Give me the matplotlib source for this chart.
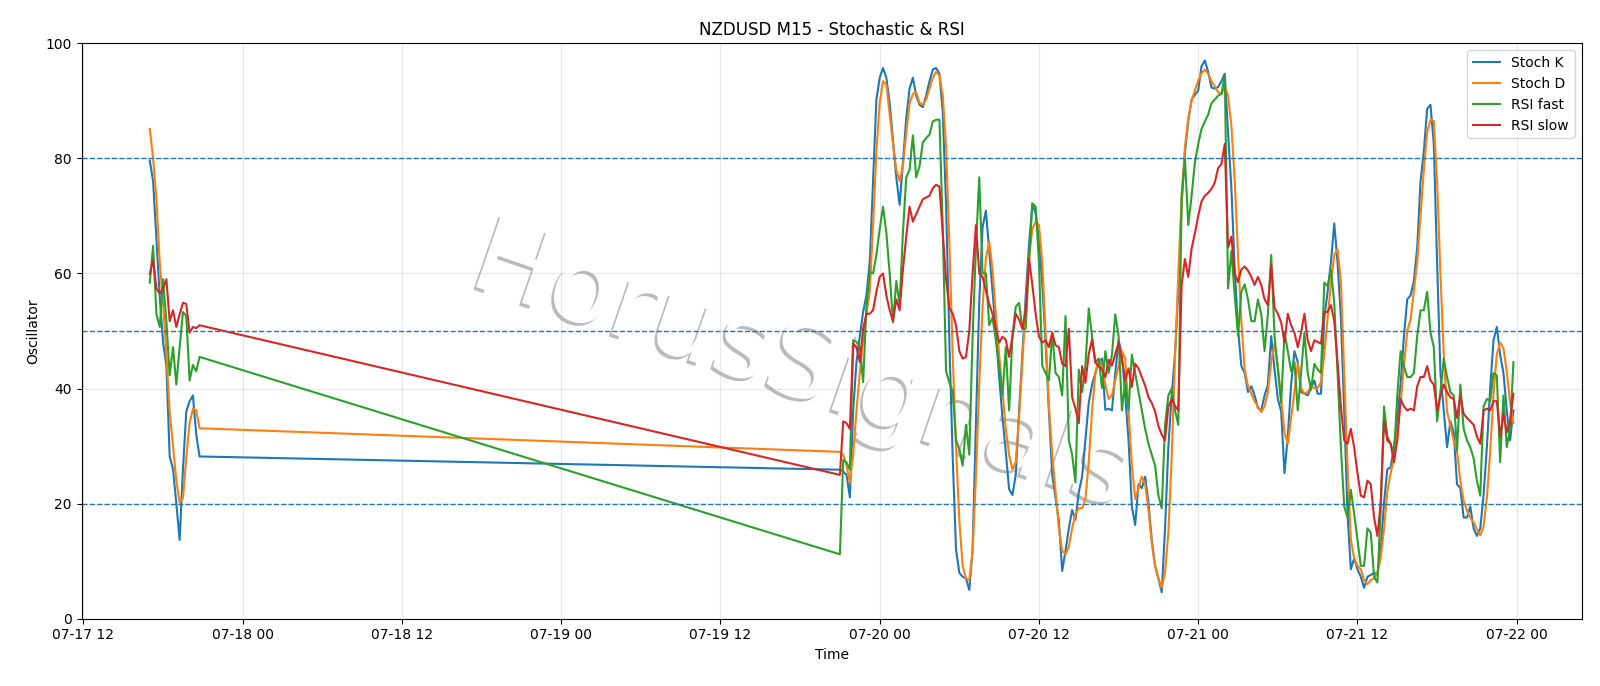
import pandas as pd
import numpy as np
import matplotlib
matplotlib.use("Agg")
import matplotlib.pyplot as plt
import matplotlib.dates as mdates
import matplotlib.patheffects as pe

# ----- 数据：M15 K线（周五收盘段 + 周日开盘后）-----
FRI_START = "2020-07-17 17:00"
SUN_START = "2020-07-19 21:00"

stoch_k_fri = [79.6, 76, 66, 56, 48, 44, 28.2, 26, 20, 13.7, 26, 36, 37.8, 38.8, 32, 28.2]
stoch_d_fri = [85.1, 80, 72.9, 62, 55, 46, 36, 30, 24, 20.2, 21, 28, 34, 36.5, 36.2, 33.1]
rsi_fast_fri = [58.4, 64.8, 52.9, 50.7, 59.0, 51.7, 42.3, 47.2, 40.7, 47.2, 53.3, 52.6, 41.4, 44.1, 43.0, 45.5]
rsi_slow_fri = [59.9, 62.3, 57.4, 56.5, 57.4, 59.0, 51.7, 53.6, 50.7, 52.9, 54.9, 54.7, 49.7, 50.7, 50.5, 51.0]

stoch_k = [
    25.9, 25.6, 25.0, 21.1, 36.2, 44.6, 49.1, 53.3, 56.2, 62.0,
    76.0, 90.2, 94.0, 95.7, 94.0, 89.6, 83.1, 76.7, 71.9, 79.3,
    87.0, 92.1, 94.0, 90.9, 89.3, 88.9, 90.9, 93.4, 95.4, 95.7,
    94.7, 88.0, 72.0, 48.0, 28.0, 12.0, 8.0, 7.3, 7.0, 5.0,
    12.0, 34.0, 55.0, 68.0, 70.9, 64.0, 57.0, 50.0, 42.0, 35.0,
    29.0, 22.5, 21.5, 25.0, 36.0, 46.0, 56.0, 65.0, 72.0, 70.5,
    66.0, 58.0, 48.0, 36.0, 25.0, 21.0, 17.0, 8.3, 11.8, 15.7,
    18.9, 17.2, 22.0, 24.7, 31.0, 37.5, 40.7, 42.7, 44.6, 45.2,
    36.3, 36.5, 36.2, 42.7, 48.4, 45.9, 38.8, 31.0, 19.5, 16.3,
    23.4, 22.7, 24.7, 20.2, 13.7, 9.2, 7.0, 4.6, 15.7, 29.8,
    38.8, 46.0, 57.0, 72.0, 81.0, 86.5, 90.2, 91.0, 91.8, 96.0,
    97.0, 95.0, 92.3, 92.1, 92.4, 93.4, 94.7, 84.4, 74.8, 60.7,
    50.4, 43.9, 42.7, 39.4, 40.4, 38.8, 36.6, 36.2, 38.8, 40.7,
    49.1, 43.3, 38.2, 36.0, 25.3, 31.7, 40.7, 46.5, 44.6, 39.4,
    39.1, 38.8, 40.1, 41.4, 39.1, 39.1, 52.3, 56.8, 61.9, 68.7,
    61.9, 52.3, 36.2, 18.2, 8.6, 10.5, 8.6, 7.3, 5.4, 7.3,
    7.6, 8.0, 7.7, 11.8, 20.2, 26.0, 26.3, 29.8, 34.9, 40.7,
    49.1, 55.5, 56.2, 58.7, 64.5, 76.0, 81.2, 88.6, 89.3, 82.5,
    61.9, 42.7, 36.2, 29.8, 34.3, 32.4, 23.4, 22.7, 17.6, 17.6,
    19.5, 15.7, 14.4, 15.7, 21.5, 29.8, 40.1, 48.4, 50.7, 45.9,
    42.7, 36.2, 31.0, 36.2,
]

stoch_d = [
    29.0, 28.5, 26.6, 23.7, 28.5, 36.2, 42.7, 48.4, 53.0, 56.8,
    68.4, 81.2, 89.6, 93.4, 92.8, 87.6, 82.5, 78.0, 76.1, 78.6,
    84.4, 89.6, 91.2, 91.5, 89.6, 89.3, 90.2, 92.1, 94.0, 95.0,
    94.4, 90.9, 82.0, 65.2, 45.9, 29.8, 17.0, 9.2, 7.0, 6.7,
    11.8, 24.7, 40.7, 54.2, 62.6, 65.5, 60.7, 53.0, 45.9, 39.4,
    33.0, 28.5, 25.9, 27.2, 34.9, 44.6, 54.2, 62.6, 67.7, 69.0,
    68.4, 61.9, 49.7, 36.9, 28.5, 22.1, 15.7, 11.8, 11.2, 12.5,
    15.7, 18.2, 19.2, 19.2, 20.8, 27.2, 36.2, 42.7, 45.2, 43.9,
    40.7, 38.2, 38.8, 41.4, 43.9, 46.5, 45.2, 36.2, 26.6, 20.8,
    22.7, 24.7, 23.4, 18.9, 13.1, 9.2, 7.0, 5.4, 8.0, 15.0,
    28.0, 45.0, 60.0, 73.0, 82.0, 87.0, 90.0, 91.8, 93.5, 94.8,
    95.4, 94.7, 93.4, 92.5, 91.5, 91.2, 92.5, 90.9, 85.7, 76.1,
    63.2, 51.7, 43.3, 40.4, 39.1, 37.8, 36.9, 35.9, 36.9, 39.4,
    44.6, 47.8, 43.9, 38.2, 32.4, 30.4, 34.9, 39.4, 44.3, 40.1,
    39.1, 39.4, 40.4, 40.1, 40.1, 41.1, 45.9, 52.3, 58.1, 63.2,
    64.2, 58.7, 42.7, 26.6, 13.7, 10.5, 9.2, 8.6, 6.7, 6.0,
    6.7, 7.0, 8.0, 10.5, 15.7, 22.1, 25.3, 27.9, 32.4, 37.5,
    43.9, 50.0, 52.0, 57.0, 62.0, 70.0, 78.0, 84.5, 86.7, 86.5,
    76.0, 60.0, 46.0, 36.0, 33.5, 31.0, 29.0, 24.0, 20.5, 18.8,
    17.5, 16.8, 15.5, 14.5, 16.0, 21.0, 29.0, 39.0, 46.0, 48.0,
    47.0, 43.0, 37.5, 34.0,
]

rsi_fast = [
    11.2, 27.6, 27.2, 25.9, 48.4, 48.1, 47.2, 41.1, 54.2, 60.3,
    60.0, 63.2, 67.7, 71.6, 67.1, 60.0, 51.5, 58.7, 54.5, 67.1,
    76.7, 78.0, 84.0, 76.7, 78.6, 82.8, 83.5, 84.1, 86.4, 86.7,
    86.7, 68.0, 43.0, 41.0, 39.5, 31.0, 29.5, 26.6, 33.7, 28.5,
    49.0, 64.5, 76.7, 60.0, 60.0, 51.0, 52.3, 48.4, 43.9, 38.8,
    47.2, 36.2, 49.1, 54.2, 54.9, 50.4, 50.4, 61.9, 72.2, 71.6,
    61.9, 43.9, 42.7, 41.4, 49.7, 42.7, 42.0, 38.8, 52.6, 31.0,
    28.5, 23.7, 43.3, 39.4, 43.9, 53.9, 49.1, 44.6, 45.2, 40.1,
    46.5, 42.7, 45.9, 52.9, 49.1, 36.2, 41.4, 36.2, 45.9, 42.7,
    39.4, 36.2, 33.0, 30.4, 28.5, 26.6, 21.4, 19.2, 33.7, 38.8,
    40.0, 36.2, 33.7, 73.5, 79.9, 68.4, 73.5, 79.3, 82.5, 85.1,
    86.4, 87.6, 89.6, 90.2, 90.9, 91.2, 94.4, 57.4, 63.9, 56.2,
    49.1, 56.8, 58.1, 55.5, 51.7, 51.7, 55.5, 52.9, 46.5, 53.0,
    63.2, 49.1, 43.3, 37.5, 49.7, 46.5, 43.0, 44.6, 36.2, 42.7,
    49.7, 42.7, 39.8, 44.3, 43.3, 42.7, 58.4, 57.8, 60.7, 54.9,
    42.7, 29.8, 19.5, 17.6, 22.4, 18.2, 13.7, 9.2, 9.2, 15.7,
    15.0, 7.3, 6.3, 18.9, 36.9, 31.7, 30.4, 28.5, 38.8, 46.5,
    43.9, 42.0, 42.0, 42.7, 49.1, 53.6, 53.6, 56.8, 49.7, 47.2,
    34.3, 39.4, 45.2, 42.0, 39.4, 38.8, 29.2, 40.7, 33.0, 31.0,
    29.8, 27.9, 24.0, 21.4, 36.9, 38.2, 37.8, 42.7, 42.3, 27.2,
    38.8, 29.8, 33.0, 44.6,
]

rsi_slow = [
    25.0, 34.3, 34.0, 33.0, 47.8, 47.2, 44.6, 50.4, 53.0, 53.0,
    53.6, 56.8, 59.4, 60.0, 56.2, 53.6, 51.7, 55.5, 53.6, 60.7,
    66.4, 71.6, 69.0, 70.3, 71.6, 72.9, 73.2, 73.5, 74.8, 75.4,
    75.1, 67.1, 59.0, 54.0, 53.0, 51.0, 46.5, 45.2, 45.5, 50.0,
    60.0, 68.4, 60.0, 59.4, 57.0, 54.7, 53.0, 50.5, 48.0, 49.0,
    48.5, 45.5, 49.0, 53.0, 52.0, 50.4, 53.5, 62.6, 58.0, 53.0,
    49.0, 48.0, 48.4, 47.2, 49.7, 47.5, 47.2, 44.3, 43.9, 50.4,
    38.5, 36.5, 34.0, 43.9, 41.0, 46.0, 48.5, 44.5, 43.9, 43.3,
    42.0, 45.0, 44.0, 46.0, 48.0, 45.0, 41.5, 43.5, 40.3, 44.3,
    43.5, 42.0, 40.5, 38.5, 37.5, 36.0, 33.5, 32.0, 31.0, 36.9,
    38.2, 37.0, 36.2, 58.0, 62.5, 59.4, 64.3, 67.0, 70.0, 72.5,
    73.5, 74.0, 74.7, 75.8, 78.3, 79.0, 82.5, 64.5, 66.4, 60.0,
    58.5, 60.7, 61.2, 60.5, 59.4, 58.0, 59.4, 58.0, 55.5, 54.5,
    61.5, 54.0, 53.0, 51.5, 48.0, 53.0, 51.0, 49.7, 47.2, 49.7,
    53.0, 48.4, 46.5, 48.4, 48.1, 47.8, 53.3, 53.3, 54.5, 51.7,
    44.6, 36.9, 31.0, 30.4, 33.0, 29.8, 25.3, 21.4, 21.1, 24.0,
    23.4, 17.6, 14.4, 20.2, 34.3, 31.0, 30.4, 27.2, 31.0, 38.2,
    36.9, 36.2, 36.5, 36.2, 40.4, 42.0, 42.0, 43.9, 41.4, 40.7,
    36.2, 38.8, 40.7, 39.4, 38.5, 38.2, 34.9, 38.8, 35.6, 34.9,
    34.3, 33.7, 31.7, 30.4, 36.2, 36.5, 36.2, 37.8, 37.8, 31.7,
    35.6, 32.4, 34.3, 39.1,
]

LEVELS = [80, 50, 20]

# ----- 时间轴 -----
t_fri = pd.date_range(FRI_START, periods=len(stoch_k_fri), freq="15min")
t_sun = pd.date_range(SUN_START, periods=len(stoch_k), freq="15min")
time = t_fri.append(t_sun)

df = pd.DataFrame({
    "Stoch K": stoch_k_fri + stoch_k,
    "Stoch D": stoch_d_fri + stoch_d,
    "RSI fast": rsi_fast_fri + rsi_fast,
    "RSI slow": rsi_slow_fri + rsi_slow,
}, index=time)

# ----- 绘图 -----
fig, ax = plt.subplots(figsize=(16, 6.86), dpi=100)
fig.subplots_adjust(left=0.051, right=0.9885, top=0.937, bottom=0.098)

for col in df.columns:
    ax.plot(df.index, df[col], lw=1.5, label=col)

for lv in LEVELS:
    ax.axhline(lv, color="#1f77b4", ls="--", lw=1)

ax.set_ylim(0, 100)
ax.grid(alpha=0.3)
ax.xaxis.set_major_locator(mdates.HourLocator(byhour=[0, 12]))
ax.xaxis.set_major_formatter(mdates.DateFormatter("%m-%d %H"))
ax.set_title("NZDUSD M15 - Stochastic & RSI", fontsize=12)
ax.set_xlabel("Time")
ax.set_ylabel("Oscillator")
ax.legend(loc="upper right")

# 水印：白字 + 向左下偏移的浅灰阴影
ax.text(0.48, 0.435, "HorusSignals", transform=ax.transAxes,
        fontsize=76, rotation=-19, ha="center", va="center",
        color="white", zorder=0.5,
        path_effects=[pe.withSimplePatchShadow(offset=(-2, -2), shadow_rgbFace="#b4b4b4", alpha=0.9)])

plt.savefig("out.png", dpi=100)
